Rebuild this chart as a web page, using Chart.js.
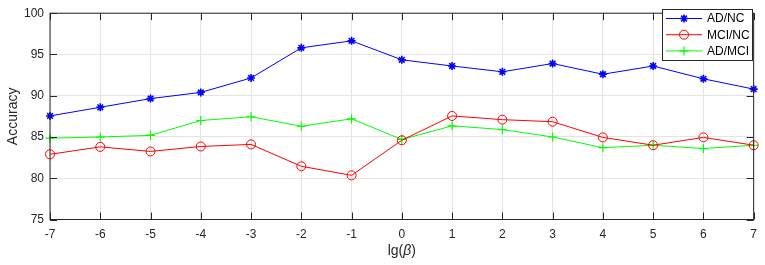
<!DOCTYPE html>
<html>
<head>
<meta charset="utf-8">
<script src="https://cdn.jsdelivr.net/npm/chart.js@4.4.1/dist/chart.umd.min.js"></script>
<style>
  html, body { margin: 0; padding: 0; background: #fff; }
  #wrap { width: 765px; height: 265px; }
</style>
</head>
<body>
<div id="wrap"><canvas id="chart_acc"></canvas></div>
<script>
// values
var betaLabels = ["-7", "-6", "-5", "-4", "-3", "-2", "-1", "0", "1", "2", "3", "4", "5", "6", "7"];
var adNC  = [87.55, 88.6, 89.65, 90.4, 92.15, 95.8, 96.65, 94.35, 93.6, 92.9, 93.9, 92.6, 93.6, 92.05, 90.8];
var mciNC = [82.9, 83.8, 83.25, 83.85, 84.1, 81.45, 80.35, 84.6, 87.55, 87.1, 86.85, 84.95, 84.0, 84.95, 84.0];
var adMCI = [84.85, 85.0, 85.2, 87.0, 87.45, 86.3, 87.2, 84.7, 86.35, 85.9, 85.0, 83.7, 84.0, 83.6, 84.0];
var yTicks = [75, 80, 85, 90, 95, 100];

var axisColor = "#262626";
var fontName = "'Liberation Sans', Arial, sans-serif";

// box, inward ticks, axis titles and the legend, drawn MATLAB style
var matlabLook = {
    id: "matlabLook",
    afterDraw: function(chart) {
        var ctx = chart.ctx;
        var a = chart.chartArea;
        var xs = chart.scales.x, ys = chart.scales.y;
        ctx.save();
        ctx.strokeStyle = axisColor;
        ctx.lineWidth = 1;
        ctx.strokeRect(a.left, a.top, a.right - a.left, a.bottom - a.top);

        // inward ticks
        ctx.beginPath();
        betaLabels.forEach(function(l, i) {
            var px = Math.round(xs.getPixelForValue(i)) + 0.5;
            ctx.moveTo(px, a.bottom); ctx.lineTo(px, a.bottom - 7);
            ctx.moveTo(px, a.top); ctx.lineTo(px, a.top + 7);
        });
        yTicks.forEach(function(v) {
            var py = Math.round(ys.getPixelForValue(v)) + 0.5;
            ctx.moveTo(a.left, py); ctx.lineTo(a.left + 7, py);
            ctx.moveTo(a.right, py); ctx.lineTo(a.right - 7, py);
        });
        ctx.stroke();

        // axis titles
        ctx.fillStyle = axisColor;
        ctx.textBaseline = "middle";
        ctx.textAlign = "center";
        ctx.save();
        ctx.translate(13, (a.top + a.bottom) / 2);
        ctx.rotate(-Math.PI / 2);
        ctx.font = "14px " + fontName;
        ctx.fillText("Accuracy", 0, 0);
        ctx.restore();

        var cx = (a.left + a.right) / 2;
        var ty = 251;
        ctx.font = "14px " + fontName;
        var w1 = ctx.measureText("lg(").width;
        ctx.font = "italic 14px " + fontName;
        var w2 = ctx.measureText("\u03b2").width;
        ctx.font = "14px " + fontName;
        var w3 = ctx.measureText(")").width;
        var x0 = cx - (w1 + w2 + w3) / 2;
        ctx.textAlign = "left";
        ctx.fillText("lg(", x0, ty);
        ctx.font = "italic 14px " + fontName;
        ctx.fillText("\u03b2", x0 + w1, ty);
        ctx.font = "14px " + fontName;
        ctx.fillText(")", x0 + w1 + w2, ty);

        // legend
        var bx = 662, by = 9, bw = 90, bh = 51;
        ctx.fillStyle = "#fff";
        ctx.fillRect(bx, by, bw, bh);
        ctx.strokeStyle = axisColor;
        ctx.strokeRect(bx + 0.5, by + 0.5, bw, bh);
        ctx.font = "12px " + fontName;
        chart.data.datasets.forEach(function(ds, i) {
            var ly = 18.5 + i * 16.2;
            ctx.strokeStyle = ds.borderColor;
            ctx.lineWidth = 1;
            ctx.beginPath();
            ctx.moveTo(666, ly); ctx.lineTo(702, ly);
            ctx.stroke();
            ctx.lineWidth = ds.pointBorderWidth;
            ctx.fillStyle = ds.pointBackgroundColor || "transparent";
            Chart.helpers.drawPoint(ctx, {
                pointStyle: ds.pointStyle,
                radius: ds.pointRadius,
                rotation: 0,
                borderWidth: ds.pointBorderWidth
            }, 684, ly);
            ctx.fillStyle = "#000";
            ctx.textAlign = "left";
            ctx.fillText(ds.label, 707, ly + 0.5);
        });
        ctx.restore();
    }
};

var ctxAcc = document.getElementById("chart_acc").getContext("2d");
var ChartAcc = new Chart(ctxAcc, {
    type: "line",
    data: {
        labels: betaLabels,
        datasets: [{
            label: "AD/NC",
            data: adNC,
            borderColor: "#0000ff",
            backgroundColor: "#0000ff",
            borderWidth: 1,
            pointStyle: "star",
            pointRadius: 4,
            pointBorderWidth: 1.6,
            pointBackgroundColor: "#0000ff",
            tension: 0
        }, {
            label: "MCI/NC",
            data: mciNC,
            borderColor: "#ff0000",
            backgroundColor: "transparent",
            borderWidth: 1,
            pointStyle: "circle",
            pointRadius: 4.5,
            pointBorderWidth: 1,
            pointBackgroundColor: "transparent",
            tension: 0
        }, {
            label: "AD/MCI",
            data: adMCI,
            borderColor: "#00ff00",
            backgroundColor: "#00ff00",
            borderWidth: 1,
            pointStyle: "cross",
            pointRadius: 4.5,
            pointBorderWidth: 1.2,
            pointBackgroundColor: "#00ff00",
            tension: 0
        }]
    },
    options: {
        responsive: true,
        maintainAspectRatio: false,
        animation: false,
        devicePixelRatio: 1,
        layout: { padding: { top: 8, right: 10, left: 0, bottom: 0 } },
        plugins: {
            legend: { display: false },
            tooltip: { enabled: false }
        },
        scales: {
            x: {
                type: "category",
                offset: false,
                grid: { color: "#e4e4e4", drawTicks: false },
                border: { display: false },
                ticks: {
                    color: axisColor,
                    font: { family: fontName, size: 12 },
                    padding: 8,
                    maxRotation: 0,
                    autoSkip: false
                },
                afterFit: function(s) { s.height = 45.5; }
            },
            y: {
                min: 75,
                max: 100,
                grid: { color: "#e4e4e4", drawTicks: false },
                border: { display: false },
                afterBuildTicks: function(s) {
                    s.ticks = yTicks.map(function(v) { return { value: v }; });
                },
                ticks: {
                    color: axisColor,
                    font: { family: fontName, size: 12 },
                    padding: 6
                },
                afterFit: function(s) { s.width = 50; }
            }
        }
    },
    plugins: [matlabLook]
});
</script>
</body>
</html>
